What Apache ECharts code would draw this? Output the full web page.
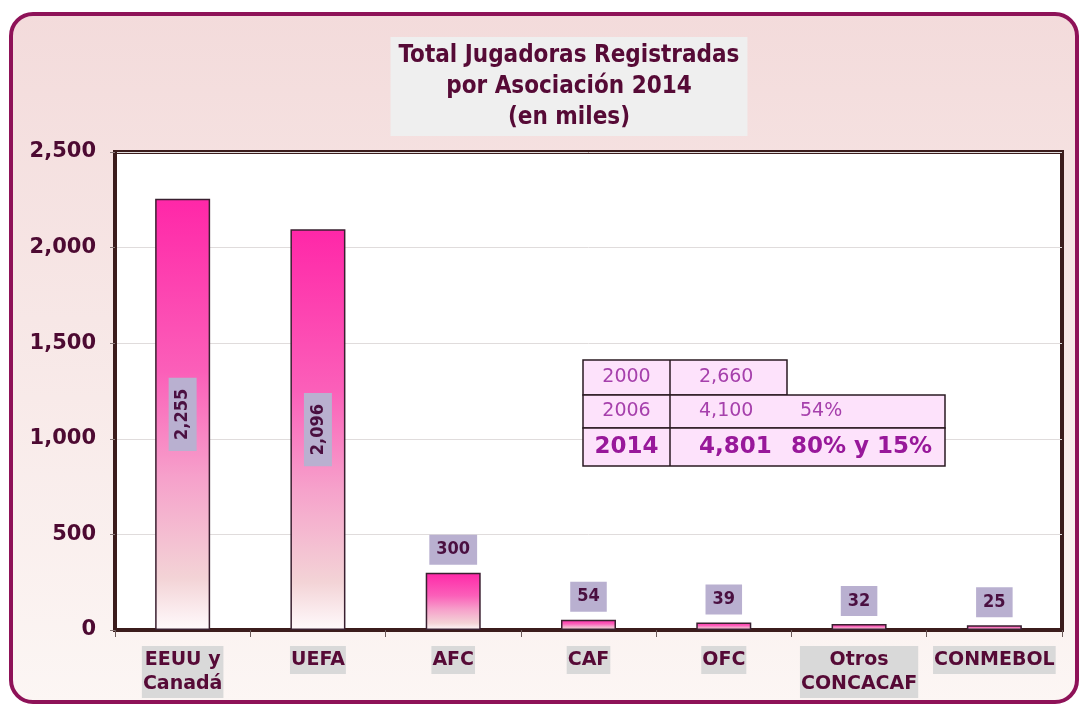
<!DOCTYPE html>
<html lang="es">
  <head>
    <meta charset="UTF-8" />
    <title>Total Jugadoras Registradas</title>
    <script src="https://cdn.jsdelivr.net/npm/echarts@6/dist/echarts.min.js"></script>
    <style>
      html, body { margin: 0; padding: 0; background: #fff; }
      #chart { width: 1080px; height: 708px; }
    </style>
  </head>
  <body>
    <div id="chart"></div>
    <script>
      // datos del gráfico (en miles)
      var categories = ["EEUU y\nCanadá", "UEFA", "AFC", "CAF", "OFC", "Otros\nCONCACAF", "CONMEBOL"];
      var players = [2255, 2096, 300, 54, 39, 32, 25];
      var yTicks = [0, 500, 1000, 1500, 2000, 2500];

      // tabla de totales
      var tableYears = ["2000", "2006", "2014"];
      var tableTotals = ["2,660", "4,100", "4,801"];
      var tableGrowth = ["", "54%", "80% y 15%"];

      var condensed = '"DejaVu Sans Condensed", "DejaVu Sans", sans-serif';
      var maroon = "#560a36";

      function fmt(v) {
        return String(v).replace(/\B(?=(\d{3})+(?!\d))/g, ",");
      }

      var barGradient = new echarts.graphic.LinearGradient(0, 0, 0, 1, [
        { offset: 0, color: "#ff27a8" },
        { offset: 0.4, color: "#fb5fb9" },
        { offset: 0.65, color: "#f6a2cb" },
        { offset: 0.88, color: "#f3d3d6" },
        { offset: 1, color: "#fffafc" },
      ]);

      var labelBox = {
        color: "#4a0f40",
        fontFamily: condensed,
        fontWeight: "bold",
        fontSize: 18,
        backgroundColor: "#b9b0d0",
        padding: [6, 7],
      };

      var barData = players.map(function (v) {
        if (v > 1000) {
          // etiquetas verticales dentro de las barras grandes
          return {
            value: v,
            label: Object.assign({}, labelBox, { position: "inside", rotate: 90, padding: [5, 11] }),
          };
        }
        return { value: v };
      });

      // tabla dibujada con elementos gráficos
      var tX = 583, c1 = 87, rowH = [35, 33, 38], tY = 360;
      var rowW = [204, 362, 362];
      var tableEls = [];
      var y = tY;
      for (var i = 0; i < tableYears.length; i++) {
        var bold = i === 2;
        var fs = bold ? 23 : 19;
        var col = bold ? "#98189a" : "#a640ac";
        tableEls.push({
          type: "rect",
          shape: { x: tX, y: y, width: rowW[i], height: rowH[i] },
          style: { fill: "#fde2fb", stroke: "#2a1a22", lineWidth: 1.5 },
          z: 20,
        });
        tableEls.push({
          type: "line",
          shape: { x1: tX + c1, y1: y, x2: tX + c1, y2: y + rowH[i] },
          style: { stroke: "#2a1a22", lineWidth: 1.5 },
          z: 21,
        });
        var font = (bold ? "bold " : "") + fs + 'px "DejaVu Sans", sans-serif';
        tableEls.push({
          type: "text",
          x: tX + c1 / 2, y: y + rowH[i] / 2,
          style: { text: tableYears[i], font: font, fill: col, align: "center", verticalAlign: "middle" },
          z: 22,
        });
        tableEls.push({
          type: "text",
          x: tX + 116, y: y + rowH[i] / 2,
          style: { text: tableTotals[i], font: font, fill: col, align: "left", verticalAlign: "middle" },
          z: 22,
        });
        if (tableGrowth[i]) {
          tableEls.push({
            type: "text",
            x: tX + (bold ? 208 : 217), y: y + rowH[i] / 2,
            style: { text: tableGrowth[i], font: font, fill: col, align: "left", verticalAlign: "middle" },
            z: 22,
          });
        }
        y += rowH[i];
      }

      var chart = echarts.init(document.getElementById("chart"));
      var option = {
        backgroundColor: "#ffffff",
        animation: false,
        title: {
          text: "Total Jugadoras Registradas\npor Asociación 2014\n(en miles)",
          left: 561,
          top: 37,
          backgroundColor: "#efefef",
          padding: [3, 8],
          textAlign: "center",
          textStyle: {
            color: maroon,
            fontFamily: condensed,
            fontWeight: "bold",
            fontSize: 24,
            lineHeight: 31,
          },
        },
        graphic: [
          {
            type: "rect",
            z: -10,
            silent: true,
            shape: { x: 11, y: 14, width: 1066, height: 688, r: 22 },
            style: {
              fill: new echarts.graphic.LinearGradient(0, 0, 0, 1, [
                { offset: 0, color: "#f3dbdb" },
                { offset: 1, color: "#fcf6f4" },
              ]),
              stroke: "#8e1258",
              lineWidth: 4,
            },
          },
        ].concat(tableEls),
        grid: {
          left: 115,
          right: 18,
          top: 152,
          bottom: 78,
          show: true,
          backgroundColor: "#ffffff",
          borderColor: "#3b1c1c",
          borderWidth: 4,
        },
        xAxis: {
          type: "category",
          data: categories,
          axisLine: { lineStyle: { color: "#3b1c1c", width: 4 } },
          axisTick: { show: true, length: 7, lineStyle: { color: "#6b5a5a", width: 1 } },
          axisLabel: {
            margin: 16,
            color: maroon,
            fontFamily: '"DejaVu Sans", sans-serif',
            fontWeight: "bold",
            fontSize: 19,
            lineHeight: 24,
            backgroundColor: "#d9d9d9",
            padding: [2, 1],
            interval: 0,
          },
        },
        yAxis: {
          type: "value",
          min: yTicks[0],
          max: yTicks[yTicks.length - 1],
          interval: 500,
          axisLine: { show: true, lineStyle: { color: "#3b1c1c", width: 4 } },
          axisTick: { show: true, length: 5, lineStyle: { color: "#8a7a7a" } },
          splitLine: { lineStyle: { color: "#e0dcdc", width: 1 } },
          axisLabel: {
            margin: 19,
            color: "#4d0a32",
            fontFamily: '"DejaVu Sans", sans-serif',
            fontWeight: "bold",
            fontSize: 21,
            formatter: function (v) { return fmt(v); },
          },
        },
        series: [
          {
            type: "bar",
            data: barData,
            barWidth: 55,
            itemStyle: {
              color: barGradient,
              borderColor: "#3a2030",
              borderWidth: 1.5,
            },
            label: Object.assign(
              {
                show: true,
                position: "top",
                distance: 8,
                formatter: function (p) { return fmt(p.value); },
              },
              labelBox
            ),
          },
        ],
      };
      chart.setOption(option);
    </script>
  </body>
</html>
